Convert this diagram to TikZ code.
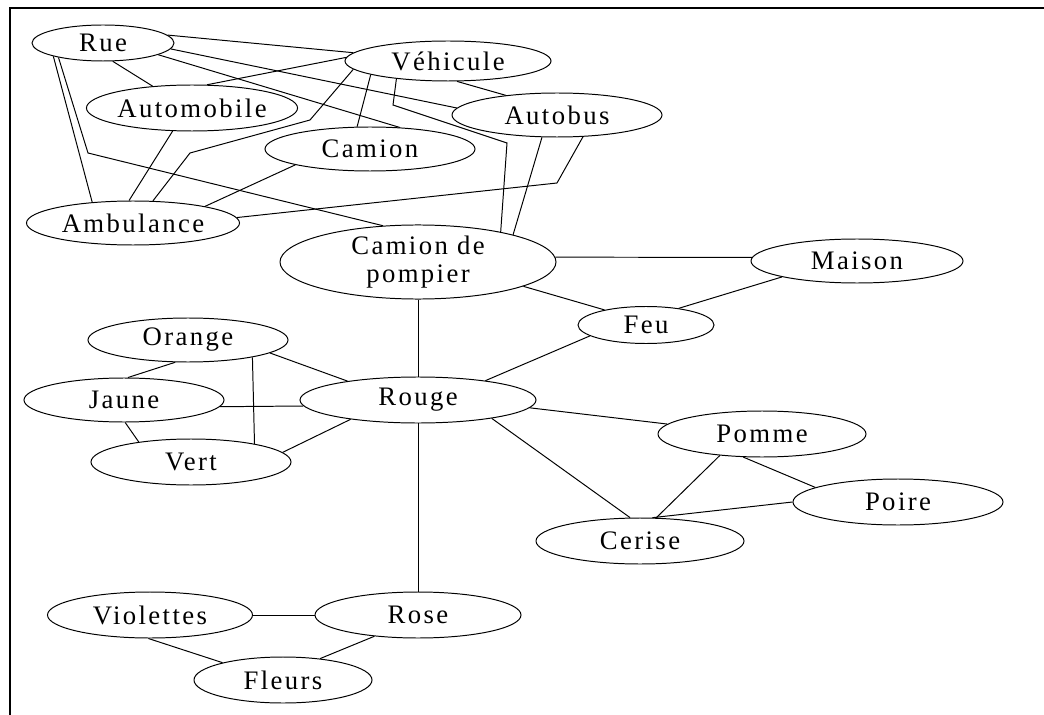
\documentclass[tikz,border=0pt]{standalone}
\usepackage{fontspec}
\setmainfont{Liberation Serif}[LetterSpace=9]
\usetikzlibrary{shapes.geometric}

\begin{document}
\begin{tikzpicture}[x=0.025cm, y=-0.025cm, line width=0.7pt,
    concept/.style={ellipse, draw, inner sep=0pt, font=\fontsize{19}{20}\selectfont}]
        \useasboundingbox (0,0) rectangle (1044,715);

        % Frame
        \draw[line width=1.2pt] (1044,8) -- (10,8) -- (10,715);

        % Concepts: name/x/y/width/height/label
        \foreach \n/\x/\y/\w/\h/\t in {
            Rue/103/43/142/36/Rue, Vehicule/448/61/206/40/Véhicule,
            Automobile/192/108/210/46/Automobile, Autobus/557/115/210/44/Autobus,
            Camion/370/149/210/44/Camion, Ambulance/133/223/213/44/Ambulance,
            Maison/857/261/212/44/Maison, Feu/646/325/136/37/Feu,
            Orange/188/340/200/44/Orange, Jaune/124/400/200/44/Jaune,
            Rouge/418/400/236/46/Rouge, Vert/191/462/200/46/Vert,
            Pomme/762/434/208/46/Pomme, Poire/898/502/210/46/Poire,
            Cerise/640/541/208/46/Cerise, Violettes/150/615/205/46/Violettes,
            Rose/418/615/206/46/Rose, Fleurs/283/680/178/46/Fleurs} {
            \node[concept, minimum width=\w*0.025cm, minimum height=\h*0.025cm] (\n) at (\x,\y) {\t};
        }
        \node[concept, align=center, minimum width=276*0.025cm, minimum height=62*0.025cm] (Pompier) at (418,262) {Camion de\\pompier};

        % Bends
        \coordinate (k1) at (88,153);
        \coordinate (k2) at (310,120);
        \coordinate (k3) at (190,153);
        \coordinate (k4) at (393,105);
        \coordinate (k5) at (507,143);
        \coordinate (k6) at (557,183);

        % Links
        \foreach \a/\b in {Rue.7/Vehicule.175, Rue.-62/Automobile.151, Rue.-5/Autobus.176,
            Rue.-12/Camion.36, Rue.-165/Ambulance.153, Vehicule.178/Automobile.57,
            Vehicule.-170/Camion.120, Vehicule.-66/Autobus.159, Autobus.-124/Pompier.16,
            Automobile.-130/Ambulance.100, Camion.-168/Ambulance.13,
            Pompier.2/Maison.178, Pompier.-13/Feu.160, Maison.-168/Feu.27,
            Pompier/Rouge, Feu.-169/Rouge.16, Orange.-9/Rouge.165, Jaune.-4/Rouge.-177,
            Orange.-15/Vert.16, Orange.-120/Jaune.80, Jaune.-87/Vert.159, Vert.6/Rouge.-164,
            Rouge.-4/Pomme.174, Rouge.-14/Cerise.113, Pomme.-153/Cerise.55,
            Pomme.-129/Poire.170, Poire.180/Cerise.62, Rouge/Rose, Violettes/Rose,
            Violettes.-94/Fleurs.164, Rose.-154/Fleurs.30} {
            \draw (\a) -- (\b);
        }
        \draw (Rue.-162) -- (k1) -- (Pompier.134);
        \draw (Vehicule.-175) -- (k2) -- (k3) -- (Ambulance.48);
        \draw (Vehicule.-161) -- (k4) -- (k5) -- (Pompier.20);
        \draw (Autobus.-40) -- (k6) -- (Ambulance.3);
\end{tikzpicture}
\end{document}
